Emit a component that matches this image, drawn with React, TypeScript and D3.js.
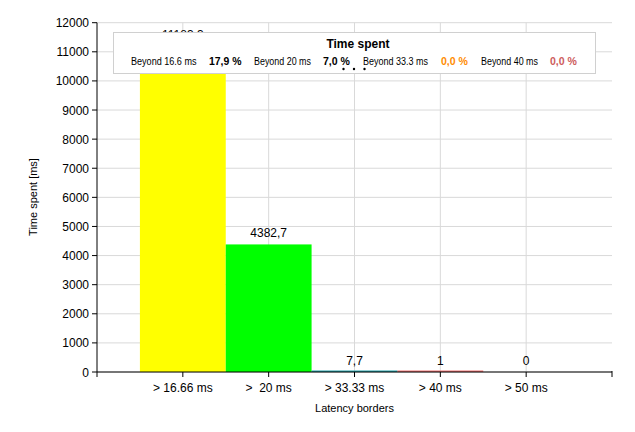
import React from "react";
import * as d3 from "d3";

const categories = ["> 16.66 ms", ">\u00a0 20 ms", "> 33.33 ms", "> 40 ms", "> 50 ms"];
const values = [11183.3, 4382.7, 7.7, 1, 0];
const barColors = ["#ffff00", "#00ff00", "#20a0a8", "#f07070", "#6060ff"];
const yTicks = [0, 1000, 2000, 3000, 4000, 5000, 6000, 7000, 8000, 9000, 10000, 11000, 12000];
const legendLabels = ["Beyond 16.6 ms", "Beyond 20 ms", "Beyond 33.3 ms", "Beyond 40 ms"];
const legendValues = ["17,9 %", "7,0 %", "0,0 %", "0,0 %"];
const legendColors = ["#000000", "#000000", "#ff8c00", "#cd5c5c"];
const legendLabelX = [131, 254, 363, 481];
const legendLabelW = [65.5, 57, 65, 57];
const legendValueX = [209, 323, 441, 550];
const legendValueW = [32.5, 27, 27, 27];

const W = 635, H = 432;
const left = 97, right = 612, top = 22.7, bottom = 372;
const font = "'Liberation Sans', Arial, sans-serif";

function fmt(v: number) {
  return Number.isInteger(v) ? String(v) : v.toFixed(1).replace(".", ",");
}

export default function App() {
  const x = d3.scaleLinear().domain([0, 6]).range([left, right]);
  const y = d3.scaleLinear().domain([0, 12000]).range([bottom, top]);
  const bw = x(1) - x(0);
  const grid = "#d9d9d9";
  return (
    <svg width={W} height={H} style={{ position: "absolute", left: 0, top: 0, background: "#fff" }} fontFamily={font}>
      {yTicks.map((t) => (
        <line key={"h" + t} x1={left} x2={right} y1={y(t)} y2={y(t)} stroke={grid} strokeWidth={1} />
      ))}
      {categories.map((c, i) => (
        <line key={"v" + i} x1={x(i + 1)} x2={x(i + 1)} y1={top} y2={bottom} stroke={grid} strokeWidth={1} />
      ))}
      {values.map((v, i) => {
        const h = Math.max(bottom - y(v), v > 0 ? 1.5 : 0);
        return (
          <rect key={"b" + i} x={x(i + 1) - bw / 2} y={bottom - h} width={bw} height={h} fill={barColors[i]} />
        );
      })}
      {values.map((v, i) => (
        <text key={"l" + i} x={x(i + 1)} y={y(v) - 7} textAnchor="middle" fontSize={12} fill="#000">
          {fmt(v)}
        </text>
      ))}
      {/* axes */}
      <line x1={left} x2={left} y1={top} y2={bottom + 5} stroke="#000" />
      <line x1={left} x2={right} y1={bottom} y2={bottom} stroke="#000" />
      {yTicks.map((t) => (
        <g key={"yt" + t}>
          <line x1={left - 5} x2={left} y1={y(t)} y2={y(t)} stroke="#000" />
          <text x={left - 8} y={y(t) + 4.5} textAnchor="end" fontSize={12}>{t}</text>
        </g>
      ))}
      {categories.map((c, i) => (
        <g key={"xt" + i}>
          <line x1={x(i + 1)} x2={x(i + 1)} y1={bottom} y2={bottom + 5} stroke="#000" />
          <text x={x(i + 1)} y={392} textAnchor="middle" fontSize={12}>{c}</text>
        </g>
      ))}
      <line x1={right} x2={right} y1={bottom - 1} y2={bottom + 5} stroke="#000" />
      <text x={(left + right) / 2} y={412} textAnchor="middle" fontSize={11}>Latency borders</text>
      <text transform={`translate(37,197) rotate(-90)`} textAnchor="middle" fontSize={11}>Time spent [ms]</text>
      {/* legend */}
      <rect x={113.5} y={32.5} width={482} height={41} fill="#fff" stroke="#d0d0d0" />
      <text x={358} y={48} textAnchor="middle" fontSize={12} fontWeight="bold">Time spent</text>
      {legendLabels.map((l, i) => (
        <g key={"lg" + i}>
          <text x={legendLabelX[i]} y={64.5} fontSize={10} textLength={legendLabelW[i]} lengthAdjust="spacingAndGlyphs">{l}</text>
          <text x={legendValueX[i]} y={64.5} fontSize={10.5} fontWeight="bold" fill={legendColors[i]} textLength={legendValueW[i]} lengthAdjust="spacingAndGlyphs">{legendValues[i]}</text>
        </g>
      ))}
      {[343.5, 354, 364.5].map((cx, i) => (
        <circle key={"d" + i} cx={cx} cy={69} r={1.2} fill="#000" />
      ))}
    </svg>
  );
}
